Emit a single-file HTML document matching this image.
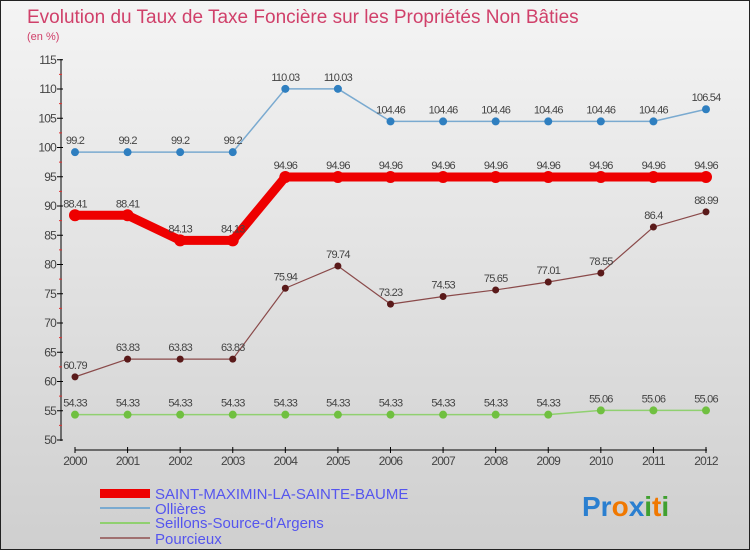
<!DOCTYPE html>
<html><head><meta charset="utf-8"><style>
body{margin:0;width:750px;height:550px;overflow:hidden;font-family:"Liberation Sans",sans-serif}
svg text{font-family:"Liberation Sans",sans-serif}
</style></head><body>
<svg id="c" width="750" height="550" xmlns="http://www.w3.org/2000/svg">
<defs><linearGradient id="bg" x1="0" y1="0" x2="0" y2="1"><stop offset="0" stop-color="#f4f4f4"/><stop offset="1" stop-color="#cfcfcf"/></linearGradient></defs>
<rect x="0.5" y="0.5" width="749" height="549" fill="url(#bg)" stroke="#222"/>
<text x="27" y="23" font-size="19" fill="#d0406a">Evolution du Taux de Taxe Foncière sur les Propriétés Non Bâties</text>
<text x="27" y="40" font-size="11" fill="#d0406a">(en %)</text>
<g id="axes"></g><g id="series"></g>
<g>
<rect x="100" y="489" width="50" height="9" fill="#e00"/>
<text x="155" y="499" font-size="15" fill="#5555ee">SAINT-MAXIMIN-LA-SAINTE-BAUME</text>
<rect x="100" y="507" width="50" height="2" fill="#7aaad0"/>
<text x="155" y="514" font-size="15" fill="#5555ee">Ollières</text>
<rect x="100" y="522" width="50" height="2" fill="#90d070"/>
<text x="155" y="528" font-size="15" fill="#5555ee">Seillons-Source-d'Argens</text>
<rect x="100" y="537" width="50" height="2" fill="#a07070"/>
<text x="155" y="544" font-size="15" fill="#5555ee">Pourcieux</text>
</g>
<g font-size="28" font-weight="bold">
<text x="582" y="516"><tspan fill="#2a7fd0">Pr</tspan><tspan fill="#f07800">o</tspan><tspan fill="#2a7fd0">x</tspan><tspan fill="#40a030">i</tspan><tspan fill="#f07800">t</tspan><tspan fill="#40a030">i</tspan></text>
</g>
</svg>
<script>
const years=[2000,2001,2002,2003,2004,2005,2006,2007,2008,2009,2010,2011,2012];
const yTicks=[50,55,60,65,70,75,80,85,90,95,100,105,110,115];
const saintMaximin=[88.41,88.41,84.13,84.13,94.96,94.96,94.96,94.96,94.96,94.96,94.96,94.96,94.96];
const ollieres=[99.2,99.2,99.2,99.2,110.03,110.03,104.46,104.46,104.46,104.46,104.46,104.46,106.54];
const seillons=[54.33,54.33,54.33,54.33,54.33,54.33,54.33,54.33,54.33,54.33,55.06,55.06,55.06];
const pourcieux=[60.79,63.83,63.83,63.83,75.94,79.74,73.23,74.53,75.65,77.01,78.55,86.4,88.99];
const NS="http://www.w3.org/2000/svg";
const xs=i=>75+i*(706-75)/12;
const ys=v=>440-(v-50)*(440-59.75)/65;
function mk(t,a,p,txt){const e=document.createElementNS(NS,t);for(const k in a)e.setAttribute(k,a[k]);if(txt!==undefined)e.textContent=txt;p.appendChild(e);return e;}
const ax=document.getElementById('axes');
let e=mk('line',{x1:61,y1:59,x2:61,y2:441,stroke:'#000'},ax);

yTicks.forEach(v=>{const y=ys(v);
 mk('line',{x1:57,y1:y,x2:63,y2:y,stroke:'#000'},ax);
 if(v<115) mk('line',{x1:59,y1:ys(v+2.5),x2:62,y2:ys(v+2.5),stroke:'#e03030'},ax);
 const t=mk('text',{x:56,y:y+4,'font-size':12,fill:'#444','text-anchor':'end','letter-spacing':'-0.8'},ax,v);
 });
e=mk('line',{x1:75,y1:450,x2:707,y2:450,stroke:'#000'},ax);

years.forEach((yr,i)=>{const x=xs(i);mk('line',{x1:x,y1:447,x2:x,y2:453,stroke:'#000'},ax);
 const t=mk('text',{x:x,y:465,'font-size':12,fill:'#444','text-anchor':'middle','letter-spacing':'-0.8'},ax,yr);
 });
const sg=document.getElementById('series');
function series(name,data,color,w,r,dot,lab){
 const g=mk('g',{},sg);
 const l=mk('polyline',{points:data.map((v,i)=>xs(i)+','+ys(v)).join(' '),fill:'none',stroke:color,'stroke-width':w,'stroke-linejoin':'round'},g);
 
 data.forEach((v,i)=>{const c=mk('circle',{cx:xs(i),cy:ys(v),r:r,fill:dot},g);
  
  const t=mk('text',{x:xs(i),y:ys(v)-8,'font-size':11,fill:'#444','text-anchor':'middle','letter-spacing':'-0.8'},g,String(v));
  });
}
series('ollieres',ollieres,'#7aaad0',1.5,4,'#2f7fc0');
series('seillons',seillons,'#90d070',1.5,4,'#70c040');
series('pourcieux',pourcieux,'#8a4a4a',1.2,3.5,'#5a1a1a');
series('saint-maximin',saintMaximin,'#ee0000',9,6,'#ee0000');
</script>
</body></html>
